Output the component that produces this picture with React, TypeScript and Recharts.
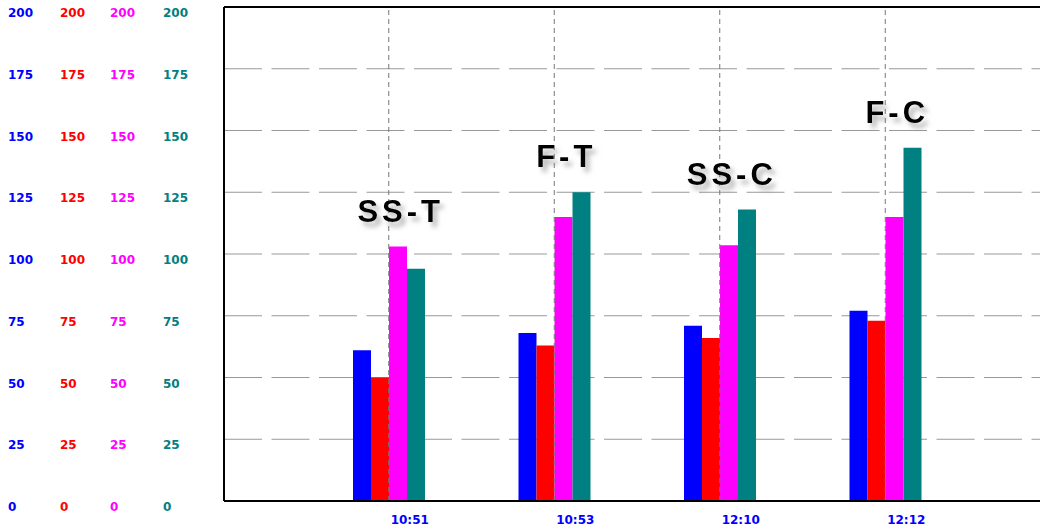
import {
  Bar,
  CartesianGrid,
  ComposedChart,
  LabelList,
  Line,
  ReferenceLine,
  XAxis,
  YAxis,
} from "recharts";

const times = ["10:51", "10:53", "12:10", "12:12"];
const groupNames = ["SS-T", "F-T", "SS-C", "F-C"];

const blueValues = [61, 68, 71, 77];
const redValues = [50, 63, 66, 73];
const magentaValues = [103, 115, 103.5, 115];
const tealValues = [94, 125, 118, 143];

const yTicks = [0, 25, 50, 75, 100, 125, 150, 175, 200];

const FONT = "'Liberation Sans', Arial, sans-serif";
const TICK_FONT = "'DejaVu Sans', Verdana, sans-serif";

const rows = times.map((t, i) => ({
  time: t,
  blue: blueValues[i],
  red: redValues[i],
  magenta: magentaValues[i],
  teal: tealValues[i],
  peak: Math.max(blueValues[i], redValues[i], magentaValues[i], tealValues[i]),
}));

// one y axis per series, all on the same 0..200 scale.
// recharts stacks left axes by sorted id: first id sits next to the plot
const AXES = [
  { id: "a_teal", color: "#008080", width: 67, pad: 6 },
  { id: "b_magenta", color: "#ff00ff", width: 53, pad: 6 },
  { id: "c_red", color: "#ff0000", width: 52, pad: 8 },
  { id: "d_blue", color: "#0000ff", width: 52, pad: 8 },
];

function makeYTick(color: string, width: number, pad: number) {
  return function YTick(props: any) {
    return (
      <text
        x={props.x - width + pad}
        y={props.y}
        dy={10}
        fill={color}
        fontSize={12}
        fontWeight="bold"
        fontFamily={TICK_FONT}
        textAnchor="start"
      >
        {props.payload.value}
      </text>
    );
  };
}

function XTick(props: any) {
  return (
    <text
      x={props.x}
      y={props.y}
      dx={21}
      dy={23}
      fill="#0000ff"
      fontSize={12}
      fontWeight="bold"
      fontFamily={TICK_FONT}
      textAnchor="middle"
    >
      {props.payload.value}
    </text>
  );
}

function PeakLabel(props: any) {
  const { x, y, index } = props;
  return (
    <text
      x={x + 12}
      y={y}
      dy={-25}
      fill="#000"
      fontSize={31}
      fontWeight="bold"
      fontFamily={FONT}
      letterSpacing={4}
      textAnchor="middle"
      filter="url(#labelShadow)"
    >
      {groupNames[index]}
    </text>
  );
}

export default function App() {
  return (
    <div style={{ position: "absolute", left: 0, top: 0, width: 1040, height: 531 }}>
      <svg width={0} height={0} style={{ position: "absolute" }}>
        <defs>
          <filter id="labelShadow" x="-20%" y="-30%" width="150%" height="180%">
            <feDropShadow dx={4} dy={5} stdDeviation={2.5} floodColor="#777" floodOpacity={0.55} />
          </filter>
        </defs>
      </svg>
      <ComposedChart
        width={1040}
        height={531}
        data={rows}
        margin={{ top: 7, right: 0, bottom: 0, left: 0 }}
        barGap={0}
        barSize={18}
      >
        <CartesianGrid
          yAxisId="a_teal"
          vertical={false}
          stroke="#999"
          strokeDasharray="38 9.5"
        />
        {times.map((t) => (
          <ReferenceLine
            key={t}
            x={t}
            yAxisId="a_teal"
            stroke="#777"
            strokeDasharray="5 4"
          />
        ))}
        <ReferenceLine y={200} yAxisId="a_teal" stroke="#000" strokeWidth={2} />
        <XAxis
          dataKey="time"
          height={30}
          padding={{ left: 82, right: 72 }}
          tickSize={0}
          tickMargin={0}
          tickLine={false}
          axisLine={{ stroke: "#000", strokeWidth: 2 }}
          tick={<XTick />}
        />
        {AXES.map((a) => (
          <YAxis
            key={a.id}
            yAxisId={a.id}
            width={a.width}
            domain={[0, 200]}
            ticks={yTicks}
            interval={0}
            tickSize={0}
            tickMargin={0}
            tickLine={false}
            axisLine={a.id === "a_teal" ? { stroke: "#000", strokeWidth: 2 } : false}
            tick={makeYTick(a.color, a.width, a.pad)}
          />
        ))}
        <Bar dataKey="blue" yAxisId="d_blue" fill="#0000ff" isAnimationActive={false} />
        <Bar dataKey="red" yAxisId="c_red" fill="#ff0000" isAnimationActive={false} />
        <Bar dataKey="magenta" yAxisId="b_magenta" fill="#ff00ff" isAnimationActive={false} />
        <Bar dataKey="teal" yAxisId="a_teal" fill="#008080" isAnimationActive={false} />
        <Line
          dataKey="peak"
          yAxisId="a_teal"
          stroke="none"
          dot={false}
          activeDot={false}
          isAnimationActive={false}
        >
          <LabelList dataKey="peak" content={<PeakLabel />} />
        </Line>
      </ComposedChart>
    </div>
  );
}
